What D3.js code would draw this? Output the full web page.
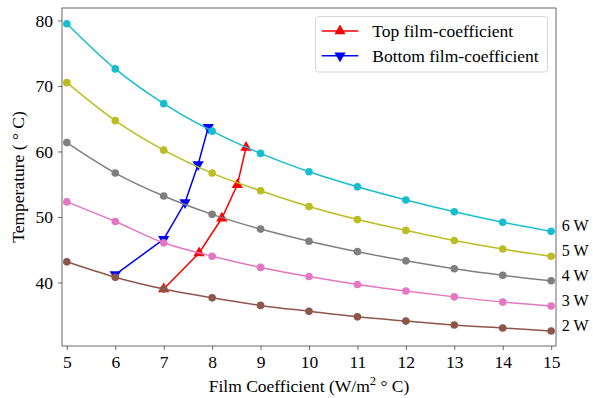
<!DOCTYPE html>
<html><head><meta charset="utf-8">
<script src="https://cdn.jsdelivr.net/npm/d3@7"></script>
<style>body{margin:0;background:#fff}svg{display:block}svg text{font-family:"Liberation Serif","Times New Roman",serif !important;fill:#000}</style>
</head><body><svg id="c" width="593" height="398"></svg>
<script>
const filmX = [5,6,7,8,9,10,11,12,13,14,15];
const powerLabels = ["6 W","5 W","4 W","3 W","2 W"];
const powerColors = ["#17becf","#bcbd22","#7f7f7f","#e377c2","#8c564b"];
const temp6W = [79.5,72.6,67.3,63.1,59.7,56.9,54.6,52.6,50.8,49.2,47.8];
const temp5W = [70.5,64.7,60.2,56.7,54.0,51.6,49.6,47.95,46.4,45.1,44.0];
const temp4W = [61.35,56.7,53.2,50.4,48.15,46.3,44.7,43.3,42.1,41.1,40.25];
const temp3W = [52.3,49.3,46.05,44.0,42.3,40.9,39.7,38.7,37.8,37.0,36.4];
const temp2W = [43.15,40.8,39.0,37.65,36.5,35.6,34.75,34.1,33.5,33.05,32.6];
const topX = [7.0,7.73,8.2,8.52,8.7];
const topY = [39.0,44.5,49.8,54.9,60.6];
const bottomX = [6.0,7.0,7.44,7.71,7.92];
const bottomY = [41.2,46.6,52.2,58.0,63.7];
const xTicks = [5,6,7,8,9,10,11,12,13,14,15];
const yTicks = [40,50,60,70,80];

const series = [temp6W,temp5W,temp4W,temp3W,temp2W];
const svg = d3.select("#c");
const L=62,T=8,R=556,B=346;
const x = d3.scaleLinear().domain([4.9,15.1]).range([L,R]);
const y = d3.scaleLinear().domain([30.3,81.9]).range([B,T]);
const fs = 17.5;
const serif = '"Liberation Serif","Times New Roman",serif';

const line = d3.line().x(d=>x(d[0])).y(d=>y(d[1])).curve(d3.curveMonotoneX);
const lineLin = d3.line().x(d=>x(d[0])).y(d=>y(d[1]));
const tri = d3.symbol().type(d3.symbolTriangle).size(55);

function film(xs, ys, color, down){
  const pts = xs.map((v,i)=>[v,ys[i]]);
  svg.append("path").attr("d",lineLin(pts)).attr("fill","none").attr("stroke",color).attr("stroke-width",1.5);
  svg.selectAll(null).data(pts).enter().append("path")
    .attr("d",tri).attr("fill",color)
    .attr("transform",d=>`translate(${x(d[0])},${y(d[1])})${down?" rotate(180)":""}`);
}
film(topX, topY, "#ff0000", false);
film(bottomX, bottomY, "#0000ff", true);

series.forEach((s,k)=>{
  const pts = filmX.map((v,i)=>[v,s[i]]);
  svg.append("path").attr("d",line(pts)).attr("fill","none").attr("stroke",powerColors[k]).attr("stroke-width",1.5);
  svg.selectAll(null).data(pts).enter().append("circle")
    .attr("cx",d=>x(d[0])).attr("cy",d=>y(d[1])).attr("r",3.8).attr("fill",powerColors[k]);
  svg.append("text").attr("x",x(15.22)).attr("y",y(s[s.length-1])).attr("font-size",16).text(powerLabels[k]);
});

// axes
const xa = svg.append("g").attr("transform",`translate(0,${B})`).call(d3.axisBottom(x).tickValues(xTicks).tickSize(4).tickPadding(5.5));
const ya = svg.append("g").attr("transform",`translate(${L},0)`).call(d3.axisLeft(y).tickValues(yTicks).tickSize(4).tickPadding(5));
[xa,ya].forEach(a=>{a.attr("font-family",serif).attr("font-size",fs);a.select(".domain").remove();a.selectAll("line").attr("stroke","#444").attr("stroke-width",0.8);
  a.selectAll("text").style("font-family",serif).style("font-size",fs+"px").attr("fill","#000");});
svg.append("rect").attr("x",L).attr("y",T).attr("width",R-L).attr("height",B-T).attr("fill","none").attr("stroke","#444").attr("stroke-width",0.8);

// labels
const xl = svg.append("text").attr("x",(L+R)/2).attr("y",392).attr("text-anchor","middle").attr("font-size",fs);
xl.append("tspan").text("Film Coefficient (W/m");
xl.append("tspan").attr("dy",-7).attr("font-size",12.5).text("2");
xl.append("tspan").attr("dy",7).text(" ° C)");
svg.append("text").attr("transform",`translate(23.5,${(T+B)/2}) rotate(-90)`).attr("text-anchor","middle").attr("font-size",fs).text("Temperature ( ° C)");

// legend
const lg = svg.append("g");
lg.append("rect").attr("x",315.5).attr("y",16.5).attr("width",232).attr("height",55.5).attr("rx",3)
  .attr("fill","#fff").attr("fill-opacity",0.8).attr("stroke","#ccc").attr("stroke-width",0.8);
[["Top film-coefficient","#ff0000",false,31],["Bottom film-coefficient","#0000ff",true,55.7]].forEach(([t,c,down,yy])=>{
  lg.append("line").attr("x1",321.7).attr("x2",358.3).attr("y1",yy).attr("y2",yy).attr("stroke",c).attr("stroke-width",1.5);
  lg.append("path").attr("d",tri).attr("fill",c).attr("transform",`translate(340,${yy})${down?" rotate(180)":""}`);
  lg.append("text").attr("x",372.3).attr("y",yy+6).attr("font-size",fs).text(t);
});
</script></body></html>
